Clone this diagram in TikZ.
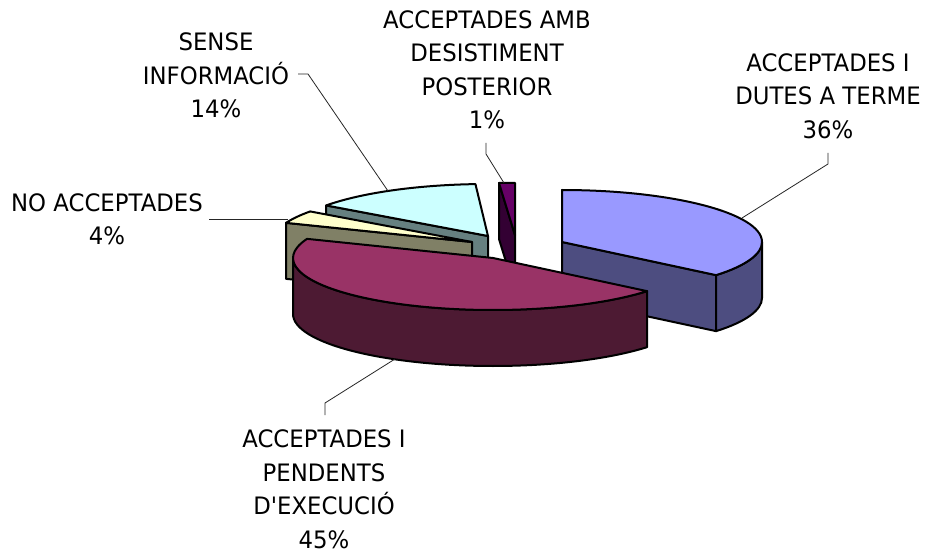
\documentclass[tikz,border=0pt]{standalone}
\usepackage{fontspec}
\setmainfont{DejaVu Sans}[FakeStretch=0.95, Ligatures=TeXOff]
\usetikzlibrary{calc}
\definecolor{blueTop}{RGB}{153,153,255}
\definecolor{blueSide}{RGB}{77,77,128}
\definecolor{redTop}{RGB}{153,51,102}
\definecolor{redSide}{RGB}{77,26,51}
\definecolor{cyanTop}{RGB}{204,255,255}
\definecolor{cyanSide}{RGB}{102,128,128}
\definecolor{creamTop}{RGB}{255,255,204}
\definecolor{creamSide}{RGB}{128,128,102}
\definecolor{purpTop}{RGB}{102,0,102}
\definecolor{purpSide}{RGB}{51,0,51}
\begin{document}
\begin{tikzpicture}[x=1pt,y=1pt,
  face/.style={draw=black, line width=2pt, line join=round},
  leader/.style={draw=black!85, line width=0.8pt},
  lbl/.style={align=center, font=\fontsize{24}{33.5}\selectfont, inner sep=0pt},
  ell/.style={x radius=200pt, y radius=52pt}]
\fill[white] (0,0) rectangle (926,-553);
\useasboundingbox (0,0) rectangle (926,-553);

% SENSE INFORMACIO (cyan)
\coordinate (Cc) at (488,-236);
\path[face, fill=cyanSide] (Cc) -- ($(Cc)+(144:200pt and 52pt)$) -- ++(0,-56) -- ($(Cc)+(0,-56)$) -- cycle;
\path[face, fill=cyanTop] (Cc) -- ($(Cc)+(144:200pt and 52pt)$) arc[start angle=144, end angle=93.6, ell] -- cycle;

% ACCEPTADES AMB DESISTIMENT (purple sliver)
\coordinate (Pc) at (515,-235);
\coordinate (Pa) at (515,-183);
\coordinate (Pb) at (499,-183);
\path[face, fill=purpSide] (Pb) -- (Pc) -- ++(0,-56) -- ($(Pb)+(0,-56)$) -- cycle;
\path[face, fill=purpTop] (Pc) -- (Pa) -- (Pb) -- cycle;

% NO ACCEPTADES (cream/olive)
\coordinate (Co) at (472,-242);
\path[face, fill=creamSide] (Co) -- ($(Co)+(158.4:200pt and 52pt)$) -- ++(0,-56) -- ($(Co)+(0,-56)$) -- cycle;
\path[face, fill=creamTop] (Co) -- ($(Co)+(158.4:200pt and 52pt)$) arc[start angle=158.4, end angle=144, ell] -- cycle;

% ACCEPTADES I DUTES A TERME (blue)
\coordinate (Cb) at (562,-242);
\path[face, fill=blueSide] (Cb) -- ($(Cb)+(-39.6:200pt and 52pt)$) -- ++(0,-56) -- ($(Cb)+(0,-56)$) -- cycle;
\path[face, fill=blueSide] ($(Cb)+(0:200pt and 52pt)$) arc[start angle=0, end angle=-39.6, ell] -- ++(0,-56) arc[start angle=-39.6, end angle=0, ell] -- cycle;
\path[face, fill=blueTop] (Cb) -- ($(Cb)+(90:200pt and 52pt)$) arc[start angle=90, end angle=-39.6, ell] -- cycle;

% ACCEPTADES I PENDENTS (red)
\coordinate (Cr) at (493,-258);
\path[face, fill=redSide] ($(Cr)+(-39.6:200pt and 52pt)$) arc[start angle=-39.6, end angle=-180, ell] -- ++(0,-56) arc[start angle=-180, end angle=-39.6, ell] -- cycle;
\path[face, fill=redTop] (Cr) -- ($(Cr)+(-39.6:200pt and 52pt)$) arc[start angle=-39.6, end angle=-201.6, ell] -- cycle;

% labels
\node[lbl] (lS) at (216,-75.5) {SENSE\\INFORMACIÓ\\14\%};
\node[lbl] (lN) at (107,-219.5) {NO ACCEPTADES\\4\%};
\node[lbl] (lD) at (487,-70) {ACCEPTADES AMB\\DESISTIMENT\\POSTERIOR\\1\%};
\node[lbl] (lB) at (828,-96) {ACCEPTADES I\\DUTES A TERME\\36\%};
\node[lbl] (lR) at (324,-489.5) {ACCEPTADES I\\PENDENTS\\D'EXECUCIÓ\\45\%};

% leader lines
\coordinate (sS1) at (298,-74);
\coordinate (sS2) at (308,-74);
\coordinate (sS3) at (388,-191);
\draw[leader] (sS1) -- (sS2) -- (sS3);
\coordinate (sN1) at (209,-219);
\coordinate (sN2) at (288,-219);
\draw[leader] (sN1) -- (sN2);
\coordinate (sD1) at (486,-143);
\coordinate (sD2) at (486,-154);
\coordinate (sD3) at (504,-183);
\draw[leader] (sD1) -- (sD2) -- (sD3);
\coordinate (sB1) at (828,-153);
\coordinate (sB2) at (828,-164);
\coordinate (sB3) at (742,-218);
\draw[leader] (sB1) -- (sB2) -- (sB3);
\coordinate (sR1) at (325,-415);
\coordinate (sR2) at (325,-403);
\coordinate (sR3) at (395,-359);
\draw[leader] (sR1) -- (sR2) -- (sR3);
\end{tikzpicture}
\end{document}
